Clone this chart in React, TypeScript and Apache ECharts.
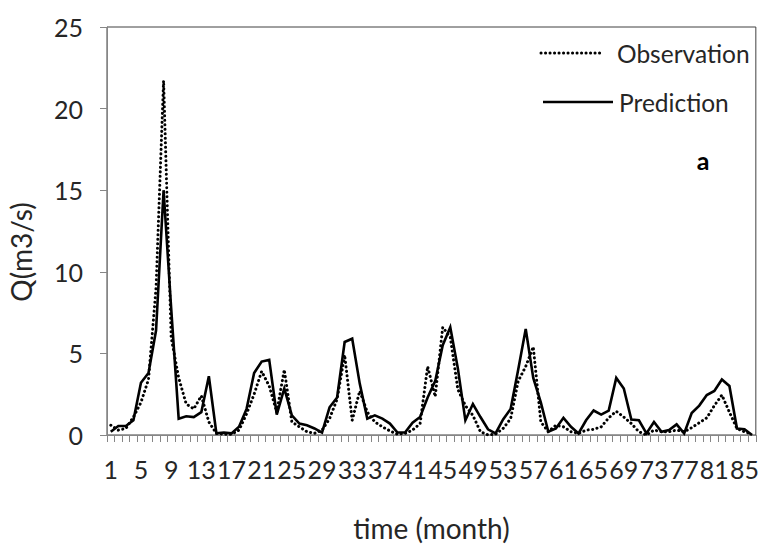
import React, { useEffect, useRef } from "react";
import * as echarts from "echarts";

const months: string[] = Array.from({ length: 86 }, (_, i) => String(i + 1));

const observation: number[] = [
  0.6, 0.3, 0.4, 1.1, 2.0, 3.4, 9.0, 21.7, 6.0, 3.5,
  1.9, 1.6, 2.4, 0.8, 0.1, 0.05, 0.05, 0.3, 1.3, 2.5,
  3.9, 3.0, 1.4, 4.0, 0.8, 0.5, 0.2, 0.1, 0.3, 1.0,
  2.2, 4.9, 0.9, 2.7, 1.4, 0.8, 0.5, 0.25, 0.05, 0.1,
  0.3, 0.7, 4.2, 2.35, 6.6, 6.0, 2.8, 1.8, 1.2, 0.2,
  0.0, 0.05, 0.4, 1.0, 3.3, 4.2, 5.4, 0.8, 0.2, 0.6,
  0.5, 0.2, 0.1, 0.3, 0.35, 0.5, 1.05, 1.45, 1.1, 0.7,
  0.2, 0.0, 0.3, 0.2, 0.2, 0.3, 0.2, 0.45, 0.75, 1.05,
  1.8, 2.45, 1.4, 0.4, 0.2, 0.05,
];

const prediction: number[] = [
  0.2, 0.55, 0.55, 0.9, 3.2, 3.8, 6.4, 15.0, 7.8, 1.0,
  1.15, 1.1, 1.4, 3.6, 0.1, 0.15, 0.1, 0.5, 1.6, 3.8,
  4.5, 4.6, 1.25, 2.85, 1.2, 0.7, 0.6, 0.4, 0.15, 1.7,
  2.3, 5.7, 5.9, 3.15, 1.0, 1.2, 1.0, 0.7, 0.15, 0.15,
  0.75, 1.1, 2.3, 3.3, 5.5, 6.6, 4.1, 0.9, 1.9, 1.1,
  0.35, 0.1, 0.95, 1.6, 4.0, 6.5, 3.5, 2.0, 0.2, 0.4,
  1.05, 0.5, 0.1, 0.9, 1.5, 1.25, 1.5, 3.5, 2.85, 0.95,
  0.9, 0.1, 0.8, 0.2, 0.3, 0.65, 0.1, 1.35, 1.8, 2.45,
  2.7, 3.4, 3.0, 0.4, 0.35, 0.0,
];

const FONT = "Lato";
const TEXT = "#262626";
const AXIS = "#868686";

export default function App() {
  const ref = useRef<HTMLDivElement>(null);
  useEffect(() => {
    if (!ref.current) return;
    const chart = echarts.init(ref.current, null, { renderer: "svg" });
    chart.setOption({
      animation: false,
      grid: {
        left: 107,
        right: 4,
        top: 27,
        bottom: 110,
        show: true,
        borderColor: "#404040",
        borderWidth: 1,
        backgroundColor: "transparent",
      },
      xAxis: {
        type: "category",
        data: months,
        boundaryGap: true,
        axisLine: { lineStyle: { color: AXIS, width: 1 } },
        axisTick: { show: true, interval: 0, length: 7, lineStyle: { color: AXIS } },
        axisLabel: { interval: 3, fontFamily: FONT, fontSize: 25, color: TEXT, margin: 21 },
        splitLine: { show: false },
        name: "time (month)",
        nameLocation: "middle",
        nameGap: 79,
        nameTextStyle: { fontFamily: FONT, fontSize: 28, color: TEXT },
      },
      yAxis: {
        type: "value",
        min: 0,
        max: 25,
        interval: 5,
        splitLine: { show: false },
        axisLine: { show: true, lineStyle: { color: AXIS, width: 1 } },
        axisTick: { show: true, length: 7, lineStyle: { color: AXIS } },
        axisLabel: { fontFamily: FONT, fontSize: 25, color: TEXT, margin: 24 },
      },
      series: [
        {
          name: "Observation",
          type: "line",
          data: observation,
          symbol: "none",
          z: 2,
          lineStyle: { color: "#000", width: 3, type: [0.1, 4.4], cap: "round" },
        },
        {
          name: "Prediction",
          type: "line",
          data: prediction,
          symbol: "none",
          z: 3,
          lineStyle: { color: "#000", width: 2.6, join: "miter" },
        },
      ],
      graphic: [
        {
          type: "line",
          shape: { x1: 541, y1: 53, x2: 604, y2: 53 },
          style: { stroke: "#000", lineWidth: 3, lineDash: [0.1, 4.4], lineCap: "round" },
        },
        {
          type: "text",
          x: 617,
          y: 53,
          style: { text: "Observation", font: `24.5px ${FONT}`, fill: TEXT, verticalAlign: "middle" },
        },
        {
          type: "line",
          shape: { x1: 543, y1: 102, x2: 613, y2: 102 },
          style: { stroke: "#000", lineWidth: 2.6 },
        },
        {
          type: "text",
          x: 619,
          y: 102,
          style: { text: "Prediction", font: `24.5px ${FONT}`, fill: TEXT, verticalAlign: "middle" },
        },
        {
          type: "text",
          x: 703,
          y: 160,
          style: { text: "a", font: `bold 25px ${FONT}`, fill: "#000", align: "center", verticalAlign: "middle" },
        },
        {
          type: "text",
          x: 21,
          y: 252,
          rotation: Math.PI / 2,
          style: { text: "Q(m3/s)", font: `28px ${FONT}`, fill: TEXT, align: "center", verticalAlign: "middle" },
        },
      ],
    });
    return () => chart.dispose();
  }, []);
  return (
    <div
      ref={ref}
      style={{ position: "fixed", left: 0, top: 0, width: 762, height: 547, background: "#fff" }}
    />
  );
}
